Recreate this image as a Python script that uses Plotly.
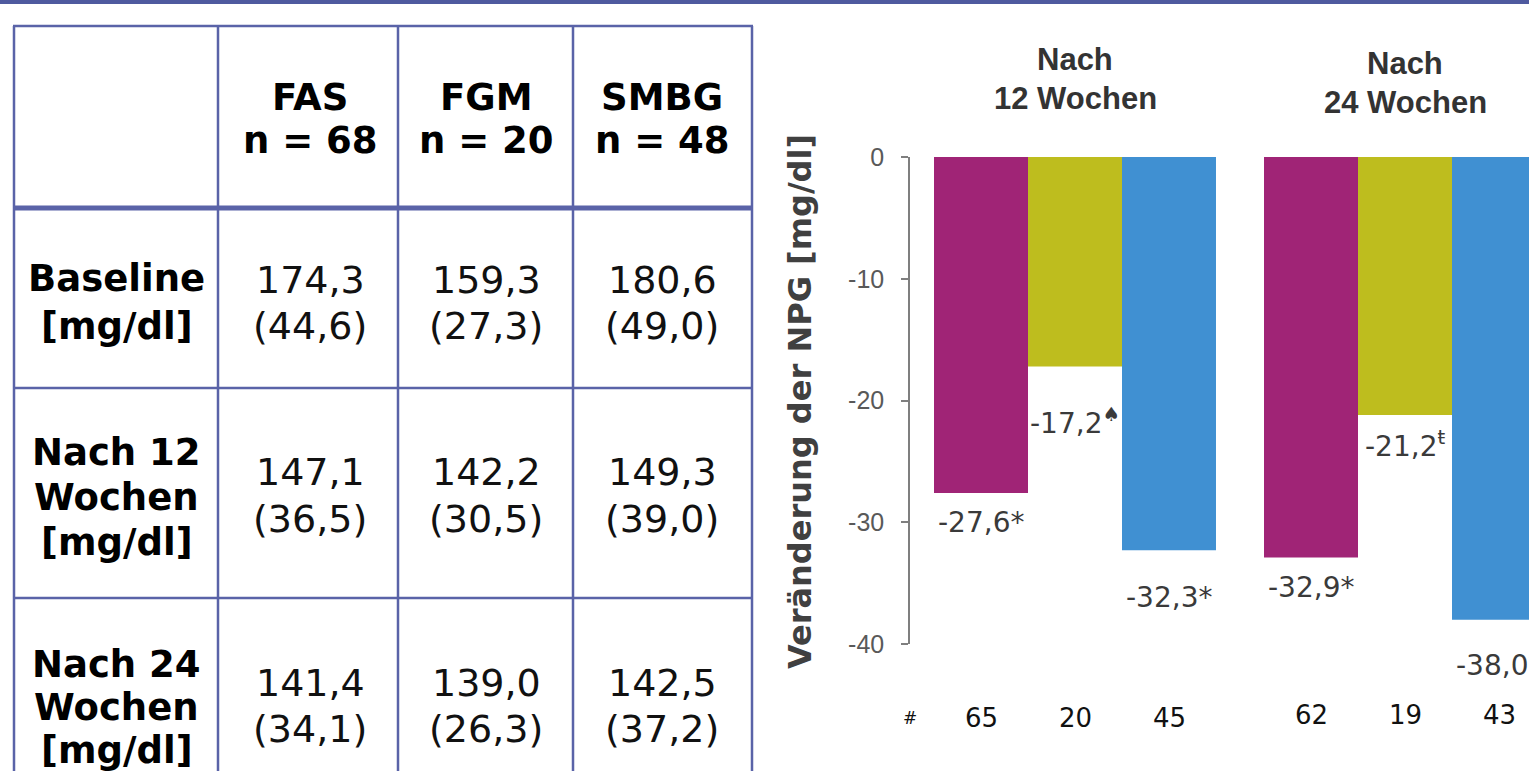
import plotly.graph_objects as go

# ---- data -------------------------------------------------------------
groups = ["FAS", "FGM", "SMBG"]
group_n = [68, 20, 48]

table_rows = [["Baseline", "[mg/dl]"],
              ["Nach 12", "Wochen", "[mg/dl]"],
              ["Nach 24", "Wochen", "[mg/dl]"]]
table_mean = [[174.3, 159.3, 180.6],
              [147.1, 142.2, 149.3],
              [141.4, 139.0, 142.5]]
table_sd = [[44.6, 27.3, 49.0],
            [36.5, 30.5, 39.0],
            [34.1, 26.3, 37.2]]

periods = ["Nach 12 Wochen", "Nach 24 Wochen"]
period_titles = [["Nach", "12 Wochen"], ["Nach", "24 Wochen"]]
change_fas = [-27.6, -32.9]
change_fgm = [-17.2, -21.2]
change_smbg = [-32.3, -38.0]
marks_fas = ["*", "*"]
marks_fgm = ["♠", "ŧ"]
marks_smbg = ["*", "*"]
count_fas = [65, 62]
count_fgm = [20, 19]
count_smbg = [45, 43]

y_ticks = [0, -10, -20, -30, -40]

# ---- styling ------------------------------------------------------------
W, H = 1529, 771
Y_MIN, Y_MAX = -40, 0
colors = ["#A02476", "#BEBD1E", "#4090D2"]
border = "#5A63A8"
font_table = "DejaVu Sans, Verdana, sans-serif"
font_arial = "Liberation Sans, Arial, sans-serif"


def px(x):
    return x / W


def py(y):
    return 1 - y / H


def de(v):
    return f"{v:.1f}".replace(".", ",")


fig = go.Figure()

changes = [change_fas, change_fgm, change_smbg]
for name, vals, col in zip(groups, changes, colors):
    fig.add_trace(go.Bar(x=periods, y=vals, name=name,
                         marker=dict(color=col, line=dict(width=0))))

annotations = []
shapes = []

# ---- table on the left -----------------------------------------------------
col_x = [14, 218, 398, 573, 752]
row_y = [26, 208, 388, 598, 800]
for x in col_x:
    shapes.append(dict(type="line", xref="paper", yref="paper",
                       x0=px(x), x1=px(x), y0=py(row_y[0]), y1=py(row_y[-1]),
                       line=dict(color=border, width=2.5)))
for i, y in enumerate(row_y[:-1]):
    shapes.append(dict(type="line", xref="paper", yref="paper",
                       x0=px(col_x[0] - 1), x1=px(col_x[-1] + 1), y0=py(y), y1=py(y),
                       line=dict(color=border, width=5 if i == 1 else 2.5)))
# band along the top edge
shapes.append(dict(type="rect", xref="paper", yref="paper",
                   x0=0, x1=1, y0=py(4), y1=1,
                   fillcolor="#4F5A9F", line=dict(width=0)))

val_cx = [310, 486, 662]
for g, n, cx in zip(groups, group_n, val_cx):
    for txt, y in ((g, 97), (f"n = {n}", 140)):
        annotations.append(dict(xref="paper", yref="paper", x=px(cx), y=py(y),
                                text=f"<b>{txt}</b>", showarrow=False,
                                xanchor="center", yanchor="middle",
                                font=dict(family=font_table, size=37, color="#000")))

label_lines_y = [[278, 326], [452, 497, 542], [664, 707, 750]]
value_lines_y = [[280, 326], [472, 519], [683, 729]]
for lines, ly, means, sds, vy in zip(table_rows, label_lines_y, table_mean,
                                     table_sd, value_lines_y):
    for txt, y in zip(lines, ly):
        annotations.append(dict(xref="paper", yref="paper", x=px(117), y=py(y),
                                text=f"<b>{txt}</b>", showarrow=False,
                                xanchor="center", yanchor="middle",
                                font=dict(family=font_table, size=37, color="#000")))
    for m, s, cx in zip(means, sds, val_cx):
        for txt, y in ((de(m), vy[0]), (f"({de(s)})", vy[1])):
            annotations.append(dict(xref="paper", yref="paper", x=px(cx), y=py(y),
                                    text=txt, showarrow=False,
                                    xanchor="center", yanchor="middle",
                                    font=dict(family=font_table, size=38, color="#111")))

# ---- bar chart annotations ---------------------------------------------------
bar_unit = 94 / 330  # width of one bar in category units
offsets = [-bar_unit, 0, bar_unit]
label_shift = [[-2.4, -2.45], [-4.5, -2.45], [-3.85, -3.8]]
marks = [marks_fas, marks_fgm, marks_smbg]
counts = [count_fas, count_fgm, count_smbg]
for k in range(3):
    for p in range(2):
        v = changes[k][p]
        mk = marks[k][p]
        mtxt = mk if mk == "*" else f"<sup>{mk}</sup>"
        # placed in the y-axis domain frame so labels below -40 stay visible
        ydom = (v + label_shift[k][p] - Y_MIN) / (Y_MAX - Y_MIN)
        annotations.append(dict(xref="x", yref="y domain", x=p + offsets[k],
                                y=ydom,
                                text=de(v) + mtxt, showarrow=False,
                                xanchor="center", yanchor="middle",
                                font=dict(family=font_table, size=28, color="#3A3A3A")))
        annotations.append(dict(xref="x", yref="paper", x=p + offsets[k],
                                y=py(718 if p == 0 else 715),
                                text=str(counts[k][p]), showarrow=False,
                                xanchor="center", yanchor="middle",
                                font=dict(family=font_table, size=26, color="#111")))
annotations.append(dict(xref="paper", yref="paper", x=px(910), y=py(718),
                        text="#", showarrow=False, xanchor="center", yanchor="middle",
                        font=dict(family=font_table, size=17, color="#111")))

title_y = [[60, 98], [63, 103]]
for p, (lines, ys) in enumerate(zip(period_titles, title_y)):
    for txt, y in zip(lines, ys):
        annotations.append(dict(xref="x", yref="paper", x=p, y=py(y),
                                text=f"<b>{txt}</b>", showarrow=False,
                                xanchor="center", yanchor="middle",
                                font=dict(family=font_arial, size=31, color="#333333")))

annotations.append(dict(xref="paper", yref="paper", x=px(800), y=py(402),
                        text="<b>Veränderung der NPG [mg/dl]</b>", showarrow=False,
                        textangle=-90, xanchor="center", yanchor="middle",
                        font=dict(family=font_table, size=32, color="#404040")))

fig.update_layout(
    width=W, height=H,
    margin=dict(l=0, r=0, t=0, b=0, pad=0, autoexpand=False),
    paper_bgcolor="white", plot_bgcolor="white",
    barmode="group", bargap=0.1455, bargroupgap=0,
    showlegend=False,
    shapes=shapes, annotations=annotations,
    xaxis=dict(domain=[px(910), 1], range=[-0.5, (W - 1075) / 330],
               visible=False, fixedrange=True, automargin=False),
    yaxis=dict(domain=[py(644), py(157)], range=[Y_MIN, Y_MAX],
               tickvals=y_ticks, ticktext=[str(t) for t in y_ticks],
               showline=True, linecolor="#7F7F7F", linewidth=1.5,
               ticks="outside", ticklen=7, tickcolor="#7F7F7F", tickwidth=1.5,
               ticklabelstandoff=12, automargin=False,
               showgrid=False, zeroline=False,
               tickfont=dict(family=font_arial, size=25, color="#595959")),
)

fig.write_html("out.html")
